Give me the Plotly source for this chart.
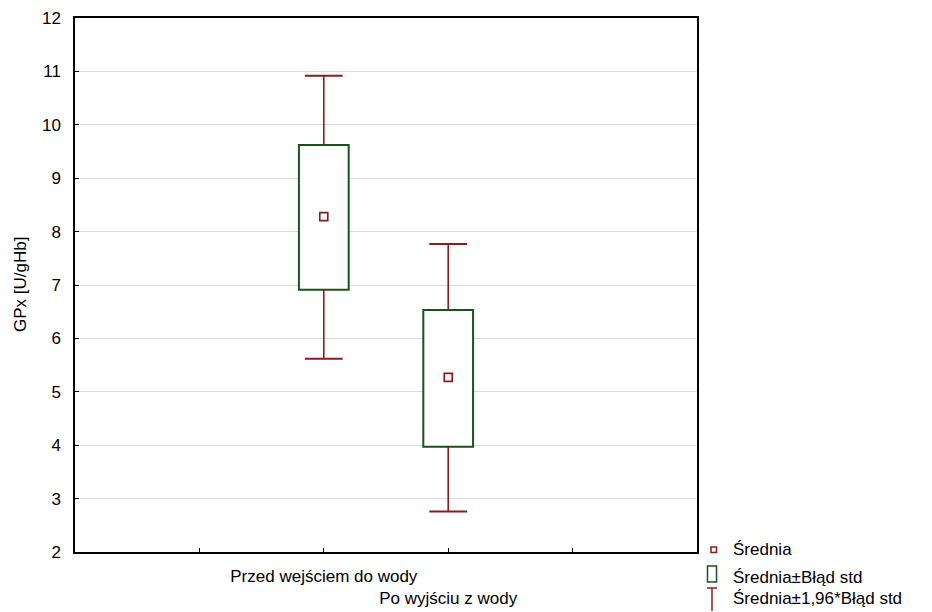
import plotly.graph_objects as go

categories = ["Przed wejściem do wody", "Po wyjściu z wody"]
cat_pos = [2, 3]
means = [8.28, 5.27]
box_lo = [6.91, 3.97]
box_hi = [9.62, 6.53]
whisk_lo = [5.62, 2.76]
whisk_hi = [10.92, 7.77]
y_ticks = [2, 3, 4, 5, 6, 7, 8, 9, 10, 11, 12]
legend_labels = ["Średnia", "Średnia±Błąd std", "Średnia±1,96*Błąd std"]

RED = "#8e1b1b"
GREEN = "#1b521b"
FONT = "Liberation Sans, Arial, sans-serif"

OFF = 8  # page body margin
W, H = 924, 604
L, T = 75 - OFF, 18 - OFF
PW, PH = 622, 534
R, B = W - L - PW, H - T - PH

fig = go.Figure()

# boxes (mean ± SE)
fig.add_trace(go.Bar(
    x=cat_pos, base=box_lo, y=[h - l for h, l in zip(box_hi, box_lo)],
    width=0.4, marker=dict(color="white", line=dict(color=GREEN, width=2)),
    hoverinfo="skip", showlegend=False))

# whiskers
wx, wy = [], []
for c, bl, bh, wl, wh in zip(cat_pos, box_lo, box_hi, whisk_lo, whisk_hi):
    wx += [c, c, None, c, c, None]
    wy += [bh, wh, None, bl, wl, None]
fig.add_trace(go.Scatter(x=wx, y=wy, mode="lines",
                         line=dict(color=RED, width=1.6), showlegend=False, hoverinfo="skip"))
# caps
fig.add_trace(go.Scatter(x=cat_pos + cat_pos, y=whisk_hi + whisk_lo, mode="markers",
                         marker=dict(symbol="line-ew", size=27, line=dict(color=RED, width=2)),
                         showlegend=False, hoverinfo="skip"))
# means
fig.add_trace(go.Scatter(x=cat_pos, y=means, mode="markers",
                         marker=dict(symbol="square-open", size=8, color=RED, line=dict(width=1.6)),
                         showlegend=False, hoverinfo="skip"))

ticktext = ["", categories[0], "<br>" + categories[1], ""]

fig.update_xaxes(range=[0, 5], tickvals=[1, 2, 3, 4], ticktext=ticktext, tickangle=0,
                 automargin=False, ticklabelstandoff=8,
                 ticks="inside", ticklen=4, tickcolor="black", showgrid=False,
                 showline=True, linecolor="black", linewidth=1.5, mirror=True,
                 zeroline=False, tickfont=dict(family=FONT, size=17, color="black"))
fig.update_yaxes(range=[2, 12], tickvals=y_ticks, ticks="inside", ticklen=4, tickcolor="black",
                 automargin=False, ticklabelstandoff=9,
                 showgrid=True, gridcolor="#dadada", gridwidth=1,
                 showline=True, linecolor="black", linewidth=1.5, mirror=True, zeroline=False,
                 tickfont=dict(family=FONT, size=17, color="black"))

def px_x(p):
    return (p - OFF - L) / PW

def px_y(p):
    return (T + PH - (p - OFF)) / PH

shapes = []
# legend icon 1: small square
shapes.append(dict(type="rect", xref="paper", yref="paper",
                   x0=px_x(711), x1=px_x(716.5), y0=px_y(552.5), y1=px_y(547),
                   line=dict(color=RED, width=1.5)))
# legend icon 2: box
shapes.append(dict(type="rect", xref="paper", yref="paper",
                   x0=px_x(707.5), x1=px_x(716.5), y0=px_y(582), y1=px_y(566),
                   line=dict(color=GREEN, width=1.5)))
# legend icon 3: whisker
shapes.append(dict(type="line", xref="paper", yref="paper",
                   x0=px_x(707), x1=px_x(717), y0=px_y(588), y1=px_y(588),
                   line=dict(color=RED, width=1.5)))
shapes.append(dict(type="line", xref="paper", yref="paper",
                   x0=px_x(712), x1=px_x(712), y0=px_y(588), y1=px_y(611),
                   line=dict(color=RED, width=1.5)))

annotations = []
for lbl, yc in zip(legend_labels, [549, 577, 598]):
    annotations.append(dict(text=lbl, xref="paper", yref="paper", x=px_x(731), y=px_y(yc),
                            xanchor="left", yanchor="middle", showarrow=False,
                            font=dict(family=FONT, size=17, color="black")))
# y-axis title
annotations.append(dict(text="GPx [U/gHb]", xref="paper", yref="paper", x=px_x(20), y=0.5,
                        xanchor="center", yanchor="middle", textangle=-90, showarrow=False,
                        font=dict(family=FONT, size=17, color="black")))

fig.update_layout(width=W, height=H, margin=dict(l=L, r=R, t=T, b=B, pad=0),
                  plot_bgcolor="white", paper_bgcolor="white",
                  shapes=shapes, annotations=annotations, barmode="overlay")
fig.write_html("out.html")
